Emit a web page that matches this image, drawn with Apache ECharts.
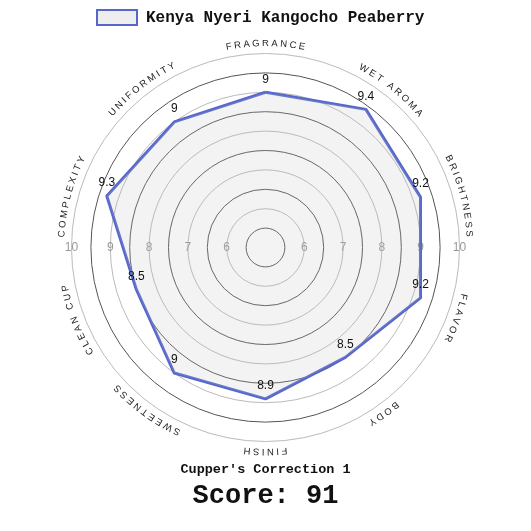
<!DOCTYPE html>
<html>
<head>
<meta charset="utf-8">
<script src="https://cdn.jsdelivr.net/npm/echarts@6/dist/echarts.min.js"></script>
<style>html,body{margin:0;padding:0;background:#fff}#c{width:531px;height:531px}</style>
</head>
<body>
<div id="c"></div>
<script>
// Categories in clockwise order starting at the top
var categories = ['FRAGRANCE','WET AROMA','BRIGHTNESS','FLAVOR','BODY','FINISH','SWEETNESS','CLEAN CUP','COMPLEXITY','UNIFORMITY'];
var scores = [9, 9.4, 9.2, 9.2, 8.5, 8.9, 9, 8.5, 9.3, 9];
var seriesName = 'Kenya Nyeri Kangocho Peaberry';
var scaleMin = 5, scaleMax = 10;
var tickLabels = ['6','7','8','9','10'];
var correctionText = "Cupper's Correction 1";
var scoreText = 'Score: 91';

var CX = 265.5, CY = 247.5, R = 194;
var blue = '#5566cc';
// small along-arc nudges (px, clockwise positive) for the curved category names
var labelShift = [0, 9, 11, 8, 2, 0, 0, -11, -12, -7];

// ECharts radar places indicators counter-clockwise; reverse (keeping first at top)
var order = [0].concat(categories.map(function(_, i){return i;}).slice(1).reverse());
var indicators = order.map(function(i){ return {name: categories[i], min: scaleMin, max: scaleMax}; });
var values = order.map(function(i){ return scores[i]; });

// curved category labels
var ctx = document.createElement('canvas').getContext('2d');
var font = '9.5px "Liberation Sans", Arial, sans-serif';
ctx.font = font;
var spacing = 2.5, textR = 204;
var graphics = [];
categories.forEach(function(name, k){
  var theta = k * 2 * Math.PI / categories.length;
  var chars = name.split('');
  var widths = chars.map(function(ch){ return ctx.measureText(ch).width; });
  var total = widths.reduce(function(a,b){return a+b;},0) + spacing*(chars.length-1);
  var s = -total/2 + labelShift[k];
  chars.forEach(function(ch, j){
    var mid = s + widths[j]/2;
    s += widths[j] + spacing;
    if (ch === ' ') return;
    var phi = theta + mid / textR;
    graphics.push({
      type: 'text',
      x: CX + textR * Math.sin(phi),
      y: CY - textR * Math.cos(phi),
      rotation: -phi,
      silent: true,
      style: {text: ch, font: font, fill: '#222', align: 'center', verticalAlign: 'middle'}
    });
  });
});

var chart = echarts.init(document.getElementById('c'), null, {renderer: 'canvas'});
chart.setOption({
  animation: false,
  backgroundColor: '#fff',
  title: [
    {text: correctionText, left: 'center', top: 458,
     textStyle: {fontFamily: '"Liberation Mono", "Courier New", monospace', fontWeight: 'bold', fontSize: 13.5, color: '#111'}},
    {text: scoreText, left: 'center', top: 478,
     textStyle: {fontFamily: '"Liberation Mono", "Courier New", monospace', fontWeight: 'bold', fontSize: 27, color: '#111'}}
  ],
  legend: {
    left: 96, top: 9, padding: 0,
    itemWidth: 40, itemHeight: 15,
    data: [{name: seriesName, icon: 'rect', itemStyle: {color: '#eeeeee', borderColor: blue, borderWidth: 2}}],
    textStyle: {fontFamily: '"Liberation Mono", "Courier New", monospace', fontWeight: 'bold', fontSize: 16, color: '#111', padding: [0,0,0,4]}
  },
  radar: [
    {
      center: [CX, CY], radius: R, startAngle: 90, shape: 'circle',
      splitNumber: 10,
      indicator: indicators,
      axisName: {show: false},
      axisLine: {show: false},
      axisTick: {show: false},
      axisLabel: {show: false},
      splitArea: {show: false},
      splitLine: {lineStyle: {color: ['#bbbbbb', '#555555'], width: 1}}
    },
    {
      center: [CX, CY], radius: R, startAngle: 0, shape: 'circle',
      splitNumber: 5,
      indicator: [{name: 'r', min: scaleMin, max: scaleMax}, {name: 'l', min: scaleMin, max: scaleMax}],
      axisName: {show: false},
      axisLine: {show: false},
      axisTick: {show: false},
      splitArea: {show: false},
      splitLine: {show: false},
      axisLabel: {show: true, color: '#999', fontSize: 12, margin: 0, align: 'center', verticalAlign: 'middle',
        fontFamily: '"Liberation Sans", Arial, sans-serif',
        formatter: function(v){ var s = String(v); return tickLabels.indexOf(s) >= 0 ? s : ''; }}
    }
  ],
  series: [{
    type: 'radar',
    radarIndex: 0,
    name: seriesName,
    symbol: 'circle',
    symbolSize: 0.1,
    lineStyle: {color: blue, width: 3},
    itemStyle: {color: blue},
    areaStyle: {color: 'rgba(190,190,190,0.27)'},
    label: {show: true, position: 'top', distance: 7, color: '#111', fontSize: 12,
      fontFamily: '"Liberation Sans", Arial, sans-serif'},
    data: [{name: seriesName, value: values}]
  }],
  graphic: graphics
});
</script>
</body>
</html>
